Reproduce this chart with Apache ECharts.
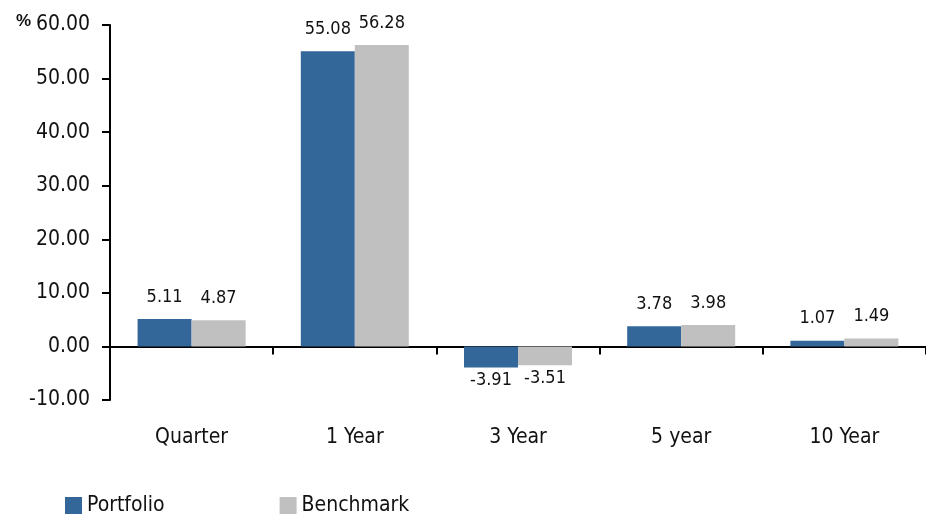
<!DOCTYPE html>
<html><head><meta charset="utf-8">
<script src="https://cdn.jsdelivr.net/npm/echarts@6/dist/echarts.min.js"></script>
<style>html,body{margin:0;padding:0;background:#fff}#c{width:926px;height:521px}</style>
</head><body><div id="c"></div>
<script>
const categories = ['Quarter', '1 Year', '3 Year', '5 year', '10 Year'];
const portfolio = [5.11, 55.08, -3.91, 3.78, 1.07];
const benchmark = [4.87, 56.28, -3.51, 3.98, 1.49];
const FONT = '"DejaVu Sans Condensed", "Liberation Sans Narrow", "Arial Narrow", sans-serif';

function mk(arr) {
  return arr.map(v => ({ value: v, label: v < 0 ? { position: 'bottom', distance: 4 } : { position: 'top', distance: 13 } }));
}
const chart = echarts.init(document.getElementById('c'));
chart.setOption({
  animation: false,
  backgroundColor: '#fff',
  textStyle: { fontFamily: FONT },
  title: { text: '%', left: 11, top: 8, textStyle: { fontSize: 17, fontWeight: 'bold', color: '#111', fontFamily: 'Liberation Sans, Arial, sans-serif' } },
  legend: {
    bottom: 0, left: 60, itemWidth: 17, itemHeight: 17, itemGap: 115,
    icon: 'rect',
    textStyle: { fontSize: 21, color: '#111', fontFamily: FONT },
    data: ['Portfolio', 'Benchmark']
  },
  grid: { left: 110, right: 0, top: 25, bottom: 121, containLabel: false },
  xAxis: {
    type: 'category', data: categories,
    axisLine: { onZero: true, lineStyle: { color: '#000', width: 2 } },
    axisTick: { show: true, inside: false, length: 8, lineStyle: { color: '#000', width: 2 } },
    axisLabel: { margin: 27, fontSize: 21, color: '#111', fontFamily: FONT }
  },
  yAxis: {
    type: 'value', min: -10, max: 60, interval: 10,
    axisLine: { show: true, lineStyle: { color: '#000', width: 2 } },
    axisTick: { show: true, inside: false, length: 8, lineStyle: { color: '#000', width: 2 } },
    splitLine: { show: false },
    axisLabel: { margin: 20, fontSize: 21, color: '#111', fontFamily: FONT, formatter: v => v.toFixed(2) }
  },
  series: [
    { name: 'Portfolio', type: 'bar', data: mk(portfolio), barWidth: 54, barGap: '0%',
      itemStyle: { color: '#336699' },
      label: { show: true, fontSize: 18, color: '#111', fontFamily: FONT, formatter: p => p.value.toFixed(2) } },
    { name: 'Benchmark', type: 'bar', data: mk(benchmark), barWidth: 54, barGap: '0%',
      itemStyle: { color: '#c0c0c0' },
      label: { show: true, fontSize: 18, color: '#111', fontFamily: FONT, formatter: p => p.value.toFixed(2) } }
  ]
});
</script></body></html>
